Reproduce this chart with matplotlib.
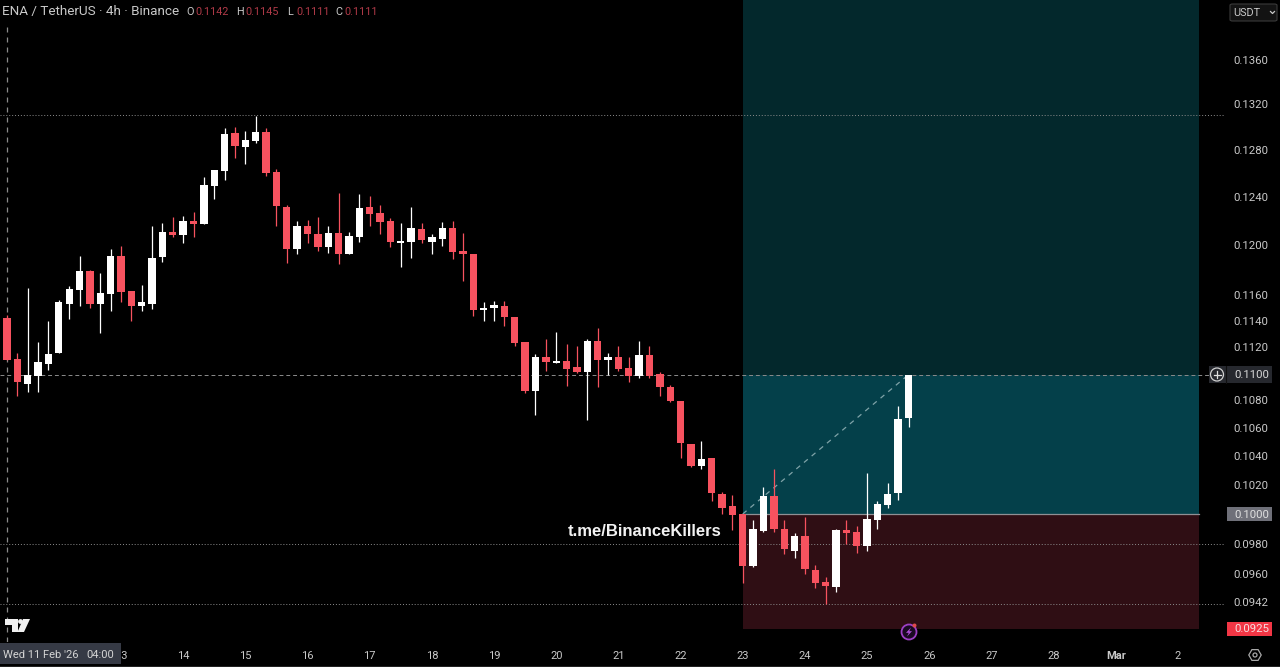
import matplotlib
matplotlib.use("Agg")
import matplotlib.pyplot as plt
import numpy as np
from matplotlib.lines import Line2D
from matplotlib.patches import Circle, FancyBboxPatch, Polygon, Rectangle

W, H = 1280, 667
FONT = "Roboto"

# 4h candles from Wed 11 Feb 04:00
opens = [0.11418, 0.11107, 0.10920, 0.10980, 0.11070, 0.11150, 0.11529, 0.11639, 0.11788, 0.11529, 0.11610,
         0.11912, 0.11629, 0.11511, 0.11529, 0.11900, 0.12108, 0.12081, 0.12196, 0.12174, 0.12491, 0.12614,
         0.12942, 0.12826, 0.12878, 0.12951, 0.12608, 0.12312, 0.11966, 0.12155, 0.12089, 0.11980, 0.12095,
         0.11926, 0.12067, 0.12312, 0.12265, 0.12196, 0.12018, 0.12021, 0.12128, 0.12026, 0.12046, 0.12141,
         0.11950, 0.11926, 0.11482, 0.11498, 0.11516, 0.11430, 0.11238, 0.10871, 0.11120, 0.11080, 0.11093,
         0.11045, 0.11012, 0.11243, 0.11100, 0.11125, 0.11038, 0.10980, 0.11137, 0.10993, 0.10896, 0.10798,
         0.10487, 0.10331, 0.10389, 0.10136, 0.10056, 0.10000, 0.09654, 0.09883, 0.10122, 0.09899, 0.09752,
         0.09852, 0.09626, 0.09552, 0.09516, 0.09890, 0.09879, 0.09785, 0.09961, 0.10061, 0.10141, 0.10672]
highs = [0.11444, 0.11155, 0.11655, 0.11238, 0.11397, 0.11560, 0.11671, 0.11910, 0.11794, 0.11774, 0.11964,
         0.11993, 0.11629, 0.11676, 0.12155, 0.12177, 0.12226, 0.12237, 0.12273, 0.12562, 0.12622, 0.12986,
         0.13000, 0.12965, 0.13096, 0.12986, 0.12631, 0.12326, 0.12198, 0.12204, 0.12226, 0.12155, 0.12432,
         0.12108, 0.12419, 0.12407, 0.12329, 0.12218, 0.12177, 0.12310, 0.12177, 0.12089, 0.12185, 0.12196,
         0.12100, 0.11926, 0.11544, 0.11552, 0.11555, 0.11430, 0.11238, 0.11145, 0.11259, 0.11310, 0.11221,
         0.11208, 0.11256, 0.11341, 0.11155, 0.11208, 0.11120, 0.11243, 0.11205, 0.11008, 0.10913, 0.10798,
         0.10487, 0.10507, 0.10389, 0.10152, 0.10129, 0.10000, 0.09959, 0.10187, 0.10308, 0.09959, 0.09870,
         0.09978, 0.09660, 0.09580, 0.09899, 0.09959, 0.09919, 0.10280, 0.10090, 0.10212, 0.10759, 0.10990]
lows = [0.11100, 0.10832, 0.10864, 0.10864, 0.11025, 0.11150, 0.11413, 0.11516, 0.11500, 0.11307, 0.11474,
        0.11547, 0.11397, 0.11474, 0.11487, 0.11864, 0.12067, 0.12013, 0.12062, 0.12174, 0.12379, 0.12539,
        0.12725, 0.12676, 0.12861, 0.12576, 0.12155, 0.11854, 0.11926, 0.12013, 0.11952, 0.11932, 0.11846,
        0.11926, 0.12026, 0.12155, 0.12089, 0.11985, 0.11825, 0.11896, 0.12013, 0.11926, 0.11993, 0.11886,
        0.11710, 0.11436, 0.11397, 0.11397, 0.11361, 0.11209, 0.10852, 0.10694, 0.11018, 0.11075, 0.10906,
        0.11000, 0.10658, 0.10896, 0.10987, 0.11020, 0.10937, 0.10967, 0.10963, 0.10832, 0.10788, 0.10389,
        0.10322, 0.10310, 0.10090, 0.10000, 0.09892, 0.09542, 0.09650, 0.09879, 0.09881, 0.09731, 0.09708,
        0.09602, 0.09509, 0.09406, 0.09487, 0.09799, 0.09741, 0.09752, 0.09899, 0.10043, 0.10095, 0.10605]
closes = [0.11100, 0.10933, 0.10987, 0.11087, 0.11145, 0.11544, 0.11647, 0.11788, 0.11529, 0.11615, 0.11912,
          0.11621, 0.11513, 0.11544, 0.11894, 0.12108, 0.12079, 0.12196, 0.12174, 0.12500, 0.12622, 0.12936,
          0.12834, 0.12884, 0.12951, 0.12599, 0.12321, 0.11966, 0.12155, 0.12089, 0.11980, 0.12095, 0.11926,
          0.12075, 0.12306, 0.12256, 0.12188, 0.12023, 0.12029, 0.12136, 0.12040, 0.12067, 0.12141, 0.11944,
          0.11926, 0.11482, 0.11498, 0.11519, 0.11428, 0.11231, 0.10871, 0.11125, 0.11083, 0.11093, 0.11033,
          0.11012, 0.11246, 0.11100, 0.11125, 0.11030, 0.10980, 0.11137, 0.10980, 0.10901, 0.10794, 0.10490,
          0.10331, 0.10378, 0.10145, 0.10041, 0.09995, 0.09654, 0.09899, 0.10120, 0.09899, 0.09764, 0.09852,
          0.09634, 0.09546, 0.09524, 0.09890, 0.09872, 0.09785, 0.09968, 0.10068, 0.10134, 0.10667, 0.10990]

price_ticks = [0.1360, 0.1320, 0.1280, 0.1240, 0.1200, 0.1160, 0.1140, 0.1120, 0.1080, 0.1060, 0.1040, 0.1020,
               0.0980, 0.0960, 0.0942]
day_labels = ["13", "14", "15", "16", "17", "18", "19", "20", "21", "22", "23", "24", "25", "26", "27", "28",
              "Mar", "2"]
day_ticks = [11 + 6 * k for k in range(len(day_labels))]

# long position tool
entry, target, stop = 0.1000, 0.10990, 0.0925
tool_start, tool_end = 71, 115.04
level_lines = [0.1310, 0.0980, 0.0941]
ohlc_names = [("O", "0.1142", 186), ("H", "0.1145", 236), ("L", "0.1111", 287), ("C", "0.1111", 335)]

UP, DOWN = "#ffffff", "#f7525f"
GREY = "#8c8c8c"
LABEL = "#c9c9c9"


def px(x, y):
    return x / W, 1 - y / H


def fig_text(fig, x, y, s, **kw):
    kw.setdefault("family", FONT)
    kw.setdefault("va", "center")
    kw.setdefault("color", LABEL)
    fig.text(*px(x, y), s, **kw)


def draw_tool(ax):
    xs = [tool_start, tool_end]
    ax.fill_between(xs, target, 0.1430, color="#03282c", lw=0, zorder=1)
    ax.fill_between(xs, entry, target, color="#04404a", lw=0, zorder=1)
    ax.fill_between(xs, stop, entry, color="#2f0e14", lw=0, zorder=1)
    ax.plot(xs, [entry, entry], color="#8f9094", lw=0.9, zorder=2)
    ax.plot([tool_start, len(closes) - 1], [entry, target], color="#7fa3a8", lw=0.9,
            ls=(0, (4, 4)), zorder=2)


def draw_candles(ax):
    idx = np.arange(len(closes))
    o, h, l, c = map(np.array, (opens, highs, lows, closes))
    colors = np.where(c >= o, UP, DOWN)
    ax.vlines(idx, l, h, colors=colors, lw=0.9, zorder=4)
    ax.bar(idx, np.abs(c - o), bottom=np.minimum(o, c), width=0.71, color=colors, lw=0, zorder=5)


def draw_header(fig):
    fig_text(fig, 2, 12, "ENA / TetherUS · 4h · Binance", fontsize=9.7)
    for name, val, x in ohlc_names:
        fig_text(fig, x, 12, name, fontsize=7.8)
        fig_text(fig, x + 9, 12, val, fontsize=7.8, color="#b03a48")


def draw_price_tags(fig):
    # USDT selector
    fig.add_artist(FancyBboxPatch(px(1230, 21), 47 / W, 17 / H, boxstyle="round,pad=0,rounding_size=0.002",
                                  transform=fig.transFigure, fc="#131313", ec="#3a3a3a", lw=0.8))
    fig_text(fig, 1233, 12.5, "USDT", fontsize=7.8)
    xs, ys = zip(*[px(1270.5, 11.5), px(1272.5, 13.5), px(1274.5, 11.5)])
    fig.add_artist(Line2D(xs, ys, color=LABEL, lw=0.9))
    # 0.1100 marker with plus button
    fig.add_artist(Rectangle(px(1209, 383), 63 / W, 17 / H, transform=fig.transFigure, fc="#26282e", ec="none"))
    xs, ys = zip(*[px(1226, 366), px(1226, 383)])
    fig.add_artist(Line2D(xs, ys, color="#101010", lw=0.8))
    fig_text(fig, 1234, 374.5, "0.1100", fontsize=8.2, color="#d8d8d8")
    fig.add_artist(Circle((1217, H - 374.5), 6.5, transform=None, fc="#26282e", ec="#d0d0d0", lw=0.9))
    for dx, dy in [(3.5, 0), (0, 3.5)]:
        xs, ys = zip(*[px(1217 - dx, 374.5 - dy), px(1217 + dx, 374.5 + dy)])
        fig.add_artist(Line2D(xs, ys, color="#e0e0e0", lw=0.9))
    # entry and stop tags
    fig.add_artist(Rectangle(px(1227, 521), 45 / W, 14 / H, transform=fig.transFigure, fc="#6f7079", ec="none"))
    fig_text(fig, 1234, 514.5, "0.1000", fontsize=8.2, color="#e0e0e0")
    fig.add_artist(Rectangle(px(1227, 636), 45 / W, 14 / H, transform=fig.transFigure, fc="#f23645", ec="none"))
    fig_text(fig, 1234, 629.5, "0.0925", fontsize=8.2, color="#f6dfe1")


def draw_icons(fig):
    # TradingView mark
    logo = [[(5, 619), (18, 619), (18, 632), (11.5, 632), (11.5, 625), (5, 625)],
            [(23, 619), (30, 619), (24, 632), (17.5, 632)]]
    for pts in logo:
        fig.add_artist(Polygon([px(*p) for p in pts], transform=fig.transFigure, fc="#f0f0f0", ec="none"))
    fig.add_artist(Circle((20.5, H - 621.5), 2.4, transform=None, fc="#f0f0f0", ec="none"))
    # bolt badge
    fig.add_artist(Circle((909, H - 632), 7.5, transform=None, fc="#1a0a22", ec="#9c3fc4", lw=1.3))
    bolt = [(911, 627.5), (906, 632.8), (908.8, 632.8), (907, 636.5), (912, 631.2), (909.2, 631.2)]
    fig.add_artist(Polygon([px(*p) for p in bolt], transform=fig.transFigure, fc="#b04fdc", ec="none"))
    fig.add_artist(Circle((914.5, H - 625.5), 2, transform=None, fc="#e04a4a", ec="none"))
    # settings gear
    ang = np.deg2rad(np.arange(0, 360, 60))
    hexa = [px(1255 + 6.2 * np.cos(a), 655 + 6.2 * np.sin(a)) for a in ang]
    fig.add_artist(Polygon(hexa, transform=fig.transFigure, fc="none", ec="#a8a8a8", lw=0.9))
    fig.add_artist(Circle((1255, H - 655), 2, transform=None, fc="none", ec="#a8a8a8", lw=0.9))


def main():
    fig = plt.figure(figsize=(W / 100, H / 100), dpi=100, facecolor="black")
    ax = fig.add_axes([0, 25 / H, 1225 / W, 642 / H], facecolor="black")
    ax.set_yscale("log")
    ax.set_xlim(-0.676, 117.54)
    ax.set_ylim(0.09169, 0.14166)

    draw_tool(ax)
    for lvl in level_lines:
        ax.axhline(lvl, color=GREY, lw=0.7, ls=(0, (1, 2)), zorder=2)
    ax.axhline(target, color=GREY, lw=0.7, ls=(0, (4, 3)), zorder=3)
    ax.axvline(0, ymax=0.966, color="#8a8a8a", lw=0.9, ls=(0, (4, 4)), zorder=2)
    draw_candles(ax)

    for s in ax.spines.values():
        s.set_visible(False)
    ax.yaxis.tick_right()
    ax.minorticks_off()
    ax.set_yticks(price_ticks, [f"{p:.4f}" for p in price_ticks], family=FONT, fontsize=8.2, color=LABEL)
    ax.set_xticks(day_ticks, day_labels, family=FONT, fontsize=8, color=LABEL)
    ax.get_xticklabels()[day_labels.index("Mar")].set_fontweight("bold")
    ax.tick_params(axis="y", length=0, pad=6)
    ax.tick_params(axis="x", length=0, pad=6.5)

    # crosshair date box sits over the first day labels
    fig.add_artist(Rectangle(px(0, 663.5), 121 / W, 20.5 / H, transform=fig.transFigure, fc="#363a45", ec="none"))
    fig_text(fig, 3, 655, "Wed 11 Feb '26", fontsize=8, color="#d5d5d5")
    fig_text(fig, 86, 655, "04:00", fontsize=8, color="#d5d5d5")
    fig.add_artist(Rectangle(px(0, 667), 1, 1.5 / H, transform=fig.transFigure, fc="#222222", ec="none"))

    fig_text(fig, 568, 531, "t.me/BinanceKillers", family="Liberation Sans", fontweight="bold",
             fontsize=12, color="#f2f2f2")
    draw_header(fig)
    draw_price_tags(fig)
    draw_icons(fig)

    fig.savefig("out.png", dpi=100, facecolor="black")


if __name__ == "__main__":
    main()
